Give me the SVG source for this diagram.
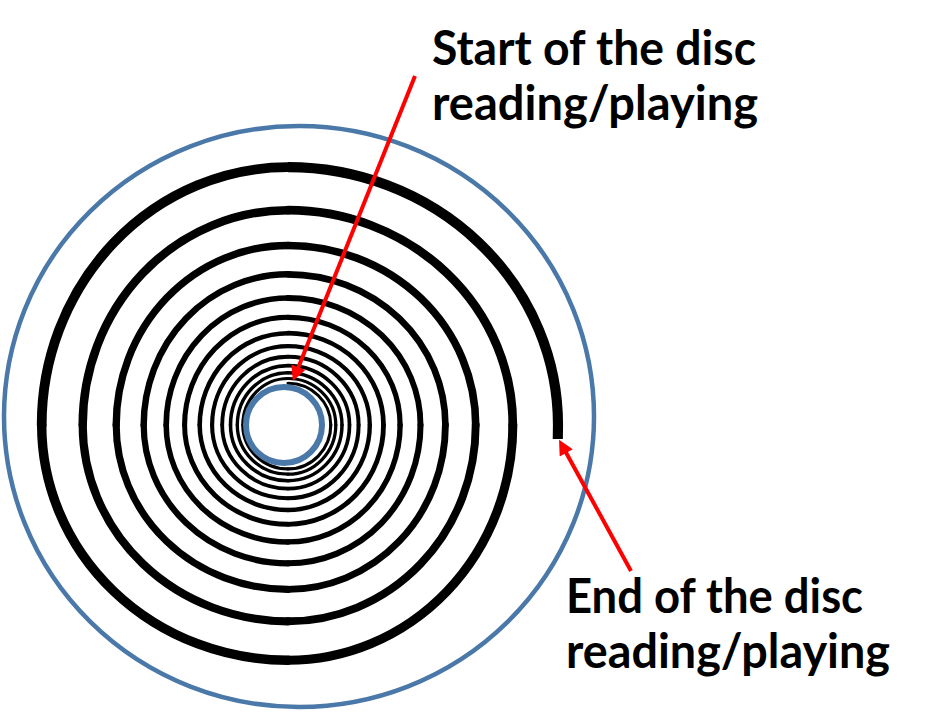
<svg xmlns="http://www.w3.org/2000/svg" width="927" height="718" viewBox="0 0 927 718">
<style>
.bg{fill:#ffffff}
.rim{fill:none;stroke:#4A78A8;stroke-width:4.5}
.hole{fill:#ffffff;stroke:#4A78A8;stroke-width:6}
.trk{fill:none;stroke:#000000;stroke-linecap:round}
.trk-end{stroke-linecap:butt}
.lbl{font-family:"Lato","Open Sans","Liberation Sans",sans-serif;font-weight:700;font-size:48px;fill:#000000}
.arr{fill:none;stroke:#FF0000;stroke-width:4;marker-end:url(#head)}
</style>
<defs>
<marker id="head" viewBox="0 0 10 10" refX="3.4" refY="5" markerWidth="19" markerHeight="15" markerUnits="userSpaceOnUse" orient="auto">
<path d="M0,0 L10,5 L0,10 z" fill="#FF0000"/>
</marker>
</defs>
<rect class="bg" x="0" y="0" width="927" height="718"/>
<g id="disc">
<ellipse class="rim" cx="299" cy="416.5" rx="295" ry="290.5"/>
<g id="spiral-track">
<path class="trk" stroke-width="3.07" d="M288 383.3 A42.8 41.7 0 0 1 330.8 425"/>
<path class="trk" stroke-width="3.11" d="M330.8 425 A42.8 43.9 0 0 1 288 468.9"/>
<path class="trk" stroke-width="3.15" d="M288 468.9 A45.2 43.9 0 0 1 242.8 425"/>
<path class="trk" stroke-width="3.19" d="M242.8 425 A45.2 46.5 0 0 1 288 378.5"/>
<path class="trk" stroke-width="3.23" d="M288 378.5 A47.8 46.5 0 0 1 335.8 425"/>
<path class="trk" stroke-width="3.27" d="M335.8 425 A47.8 49.2 0 0 1 288 474.2"/>
<path class="trk" stroke-width="3.32" d="M288 474.2 A50.7 49.2 0 0 1 237.3 425"/>
<path class="trk" stroke-width="3.37" d="M237.3 425 A50.7 52.3 0 0 1 288 372.7"/>
<path class="trk" stroke-width="3.42" d="M288 372.7 A54 52.3 0 0 1 342 425"/>
<path class="trk" stroke-width="3.48" d="M342 425 A54 55.7 0 0 1 288 480.7"/>
<path class="trk" stroke-width="3.53" d="M288 480.7 A57.5 55.7 0 0 1 230.5 425"/>
<path class="trk" stroke-width="3.59" d="M230.5 425 A57.5 59.4 0 0 1 288 365.6"/>
<path class="trk" stroke-width="3.65" d="M288 365.6 A61.5 59.4 0 0 1 349.5 425"/>
<path class="trk" stroke-width="3.72" d="M349.5 425 A61.5 63.6 0 0 1 288 488.6"/>
<path class="trk" stroke-width="3.79" d="M288 488.6 A65.8 63.6 0 0 1 222.2 425"/>
<path class="trk" stroke-width="3.86" d="M222.2 425 A65.8 68.2 0 0 1 288 356.8"/>
<path class="trk" stroke-width="3.94" d="M288 356.8 A70.6 68.2 0 0 1 358.6 425"/>
<path class="trk" stroke-width="4.02" d="M358.6 425 A70.6 73.2 0 0 1 288 498.2"/>
<path class="trk" stroke-width="4.11" d="M288 498.2 A75.9 73.2 0 0 1 212.1 425"/>
<path class="trk" stroke-width="4.2" d="M212.1 425 A75.9 78.8 0 0 1 288 346.2"/>
<path class="trk" stroke-width="4.29" d="M288 346.2 A81.8 78.8 0 0 1 369.8 425"/>
<path class="trk" stroke-width="4.39" d="M369.8 425 A81.8 85 0 0 1 288 510"/>
<path class="trk" stroke-width="4.49" d="M288 510 A88.3 85 0 0 1 199.7 425"/>
<path class="trk" stroke-width="4.6" d="M199.7 425 A88.3 91.8 0 0 1 288 333.2"/>
<path class="trk" stroke-width="4.72" d="M288 333.2 A95.5 91.8 0 0 1 383.5 425"/>
<path class="trk" stroke-width="4.84" d="M383.5 425 A95.5 99.3 0 0 1 288 524.3"/>
<path class="trk" stroke-width="4.96" d="M288 524.3 A103.4 99.3 0 0 1 184.6 425"/>
<path class="trk" stroke-width="5.1" d="M184.6 425 A103.4 107.7 0 0 1 288 317.3"/>
<path class="trk" stroke-width="5.24" d="M288 317.3 A112.1 107.7 0 0 1 400.1 425"/>
<path class="trk" stroke-width="5.38" d="M400.1 425 A112.1 116.9 0 0 1 288 541.9"/>
<path class="trk" stroke-width="5.54" d="M288 541.9 A121.8 116.9 0 0 1 166.2 425"/>
<path class="trk" stroke-width="5.7" d="M166.2 425 A121.8 127 0 0 1 288 298"/>
<path class="trk" stroke-width="5.87" d="M288 298 A132.5 127 0 0 1 420.5 425"/>
<path class="trk" stroke-width="6.05" d="M420.5 425 A132.5 138.3 0 0 1 288 563.3"/>
<path class="trk" stroke-width="6.24" d="M288 563.3 A144.3 138.3 0 0 1 143.7 425"/>
<path class="trk" stroke-width="6.44" d="M143.7 425 A144.3 150.7 0 0 1 288 274.3"/>
<path class="trk" stroke-width="6.65" d="M288 274.3 A157.4 150.7 0 0 1 445.4 425"/>
<path class="trk" stroke-width="6.87" d="M445.4 425 A157.4 164.4 0 0 1 288 589.4"/>
<path class="trk" stroke-width="7.1" d="M288 589.4 A171.8 164.4 0 0 1 116.2 425"/>
<path class="trk" stroke-width="7.34" d="M116.2 425 A171.8 179.5 0 0 1 288 245.5"/>
<path class="trk" stroke-width="7.6" d="M288 245.5 A187.7 179.5 0 0 1 475.7 425"/>
<path class="trk" stroke-width="7.86" d="M475.7 425 A187.7 196.3 0 0 1 288 621.3"/>
<path class="trk" stroke-width="8.15" d="M288 621.3 A205.3 196.3 0 0 1 82.7 425"/>
<path class="trk" stroke-width="8.44" d="M82.7 425 A205.3 214.8 0 0 1 288 210.2"/>
<path class="trk" stroke-width="8.75" d="M288 210.2 A224.8 214.8 0 0 1 512.8 425"/>
<path class="trk" stroke-width="9.08" d="M512.8 425 A224.8 235.2 0 0 1 288 660.2"/>
<path class="trk" stroke-width="9.42" d="M288 660.2 A246.3 235.2 0 0 1 41.7 425"/>
<path class="trk" stroke-width="9.79" d="M41.7 425 A246.3 257.8 0 0 1 288 167.2"/>
<path class="trk trk-end" stroke-width="10.16" d="M288 167.2 A270 257.8 0 0 1 558 425 L557.8 439"/>
</g>
<circle class="hole" cx="284" cy="425" r="38"/>
</g>
<g id="connectors">
<line class="arr" x1="415" y1="76" x2="296.5" y2="371.9"/>
<line class="arr" x1="631" y1="571" x2="563.8" y2="448.5"/>
</g>
<g id="label-start">
<text class="lbl" x="432" y="65" textLength="324" lengthAdjust="spacingAndGlyphs">Start of the disc</text>
<text class="lbl" x="432" y="120" textLength="326" lengthAdjust="spacingAndGlyphs">reading/playing</text>
</g>
<g id="label-end">
<text class="lbl" x="566" y="613" textLength="297" lengthAdjust="spacingAndGlyphs">End of the disc</text>
<text class="lbl" x="566" y="668" textLength="324" lengthAdjust="spacingAndGlyphs">reading/playing</text>
</g>
</svg>
